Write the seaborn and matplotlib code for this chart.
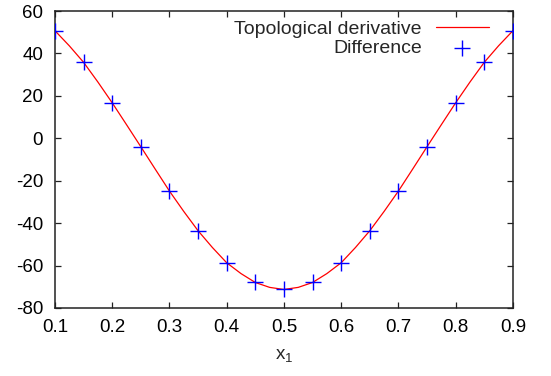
import matplotlib
matplotlib.use("Agg")
import matplotlib.pyplot as plt
import seaborn as sns
import pandas as pd

# -----------------------------
# DATA
# -----------------------------
x_curve = [0.1, 0.125, 0.15, 0.175, 0.2, 0.225, 0.25, 0.275, 0.3, 0.325, 0.35,
           0.375, 0.4, 0.425, 0.45, 0.475, 0.5, 0.525, 0.55, 0.575, 0.6, 0.625,
           0.65, 0.675, 0.7, 0.725, 0.75, 0.775, 0.8, 0.825, 0.85, 0.875, 0.9]
y_curve = [50.7, 43.6, 35.8, 26.5, 16.7, 6.4, -4.0, -14.5, -24.9, -34.5, -43.6,
           -51.5, -58.7, -63.8, -68.0, -70.3, -71.3, -70.3, -68.0, -63.8, -58.7, -51.5,
           -43.6, -34.5, -24.9, -14.5, -4.0, 6.4, 16.7, 26.5, 35.8, 43.6, 50.7]

x_diff = [0.1, 0.15, 0.2, 0.25, 0.3, 0.35, 0.4, 0.45, 0.5,
          0.55, 0.6, 0.65, 0.7, 0.75, 0.8, 0.85, 0.9]
y_diff = [50.7, 35.8, 16.7, -4.0, -24.9, -43.6, -58.7, -68.0, -71.3,
          -68.0, -58.7, -43.6, -24.9, -4.0, 16.7, 35.8, 50.7]

x_ticks = [0.1, 0.2, 0.3, 0.4, 0.5, 0.6, 0.7, 0.8, 0.9]
y_ticks = [-80, -60, -40, -20, 0, 20, 40, 60]

curve = pd.DataFrame({"x": x_curve, "y": y_curve})
diff = pd.DataFrame({"x": x_diff, "y": y_diff})

# -----------------------------
# STYLE
# -----------------------------
sns.set_style("ticks")
plt.rcParams["font.family"] = ["Liberation Sans", "DejaVu Sans"]
plt.rcParams["mathtext.fontset"] = "custom"
plt.rcParams["mathtext.rm"] = "Liberation Sans"
plt.rcParams["mathtext.it"] = "Liberation Sans"

fig = plt.figure(figsize=(5.51, 3.76), dpi=100)
ax = fig.add_axes([0.0998, 0.181, 0.831, 0.7897])

sns.lineplot(data=curve, x="x", y="y", color="red", linewidth=0.9,
             label="Topological derivative", ax=ax)
sns.scatterplot(data=diff, x="x", y="y", marker="+", color="blue", s=120,
                linewidth=1.0, label="Difference", ax=ax, zorder=3)

ax.set_xlim(0.1, 0.9)
ax.set_ylim(-80, 60)
ax.set_xticks(x_ticks)
ax.set_yticks(y_ticks)
ax.set_xticklabels([f"{t:.1f}" for t in x_ticks])
ax.set_yticklabels([str(t) for t in y_ticks])
ax.tick_params(direction="in", length=4, width=0.9, labelsize=13.5,
               top=True, right=True, colors="#222222", labelcolor="black")
ax.tick_params(axis="x", pad=8)
ax.tick_params(axis="y", pad=8.5)
for s in ax.spines.values():
    s.set_linewidth(1.1)
    s.set_color("#222222")

ax.set_xlabel("x$_1$", fontsize=13.5, labelpad=8)
ax.set_ylabel("")

ax.legend(loc="upper right", bbox_to_anchor=(0.887, 0.946),
          bbox_transform=fig.transFigure, frameon=False,
          markerfirst=False, fontsize=14, handlelength=2.7, handletextpad=0.74,
          labelspacing=0.08, borderaxespad=0, borderpad=0)

fig.savefig("out.png", dpi=100)
plt.close(fig)
